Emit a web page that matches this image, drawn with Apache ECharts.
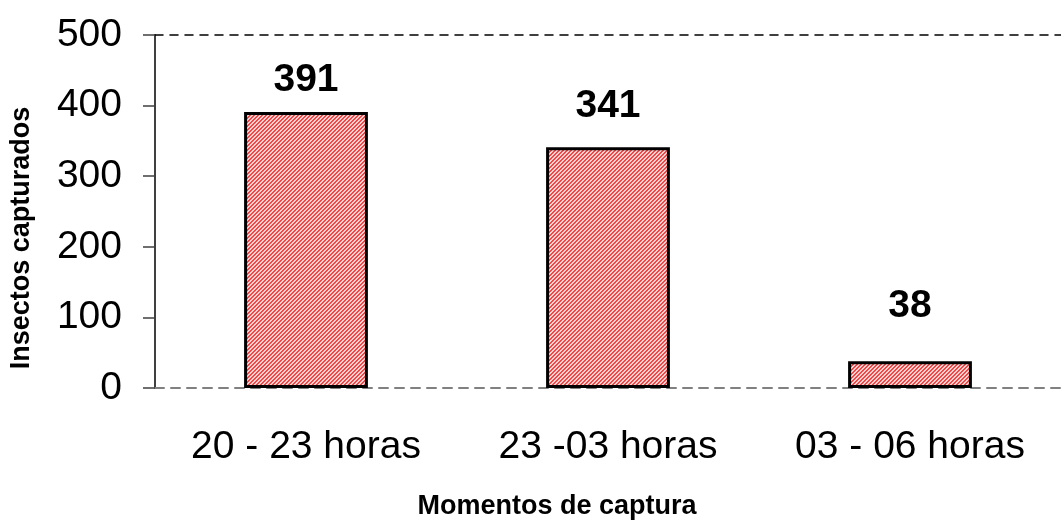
<!DOCTYPE html>
<html>
<head>
<meta charset="utf-8">
<script src="https://cdn.jsdelivr.net/npm/echarts@6/dist/echarts.min.js"></script>
<style>
  html, body { margin: 0; padding: 0; background: #fff; }
  #chart { width: 1061px; height: 521px; }
</style>
</head>
<body>
<div id="chart"></div>
<script>
// datos del gráfico
const categories = ['20 - 23 horas', '23 -03 horas', '03 - 06 horas'];
const capturados = [391, 341, 38];
const yTicks = [0, 100, 200, 300, 400, 500];

// separación de cada etiqueta sobre su barra (px)
const labelGaps = [12, 22, 35];

// trama rayada roja como en el original
function makeHatch() {
  const c = document.createElement('canvas');
  c.width = 4; c.height = 4;
  const ctx = c.getContext('2d');
  ctx.fillStyle = '#ffd2d2';
  ctx.fillRect(0, 0, 4, 4);
  ctx.fillStyle = '#f04848';
  for (let x = 0; x < 4; x++) {
    for (let y = 0; y < 4; y++) {
      if ((x + y) % 4 < 2) ctx.fillRect(x, y, 1, 1);
    }
  }
  return c;
}

const chart = echarts.init(document.getElementById('chart'));
const font = 'Liberation Sans, Arial, sans-serif';

chart.setOption({
  animation: false,
  grid: { left: 155, top: 35, bottom: 133, width: 920 },
  xAxis: [
    {
      type: 'category',
      data: categories,
      axisLine: { lineStyle: { color: '#808080', width: 2, type: [9, 7] } },
      axisTick: { show: false },
      axisLabel: { color: '#000', fontSize: 39, fontFamily: font, margin: 40 }
    },
    {
      type: 'category',
      data: categories,
      position: 'top',
      axisLine: { lineStyle: { color: '#000', width: 1.5, type: [8, 7] } },
      axisTick: { show: false },
      axisLabel: { show: false }
    }
  ],
  yAxis: {
    type: 'value',
    min: yTicks[0],
    max: yTicks[yTicks.length - 1],
    interval: 100,
    axisLine: { show: true, lineStyle: { color: '#404040', width: 2 } },
    axisTick: { show: true, length: 12, lineStyle: { color: '#404040', width: 1.5 } },
    axisLabel: { color: '#000', fontSize: 39, fontFamily: font, margin: 33 },
    splitLine: { show: false }
  },
  series: [{
    type: 'bar',
    barWidth: '41%',
    data: capturados.map((v, i) => ({
      value: v,
      label: { distance: labelGaps[i] }
    })),
    itemStyle: {
      color: { image: makeHatch(), repeat: 'repeat' },
      borderColor: '#000',
      borderWidth: 3
    },
    label: {
      show: true,
      position: 'top',
      color: '#000',
      fontSize: 39,
      fontWeight: 'bold',
      fontFamily: font
    }
  }],
  graphic: [
    {
      type: 'text',
      x: 557, y: 507,
      style: {
        text: 'Momentos de captura',
        font: 'bold 27px ' + font,
        fill: '#000',
        align: 'center',
        verticalAlign: 'middle'
      }
    },
    {
      type: 'text',
      x: 22, y: 238,
      rotation: Math.PI / 2,
      style: {
        text: 'Insectos capturados',
        font: 'bold 27px ' + font,
        fill: '#000',
        align: 'center',
        verticalAlign: 'middle'
      }
    }
  ]
});
</script>
</body>
</html>
